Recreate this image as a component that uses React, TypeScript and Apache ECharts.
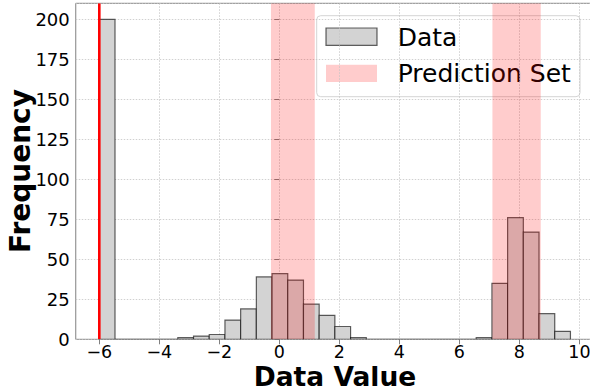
import React, { useEffect, useRef } from "react";
import * as echarts from "echarts";

// Histogram range and per-bin counts (30 equal-width bins)
const BIN_LOW = -6;
const BIN_HIGH = 9.7;
const COUNTS = [
  200, 0, 0, 0, 0, 1, 2, 3, 12, 19, 39, 41, 37, 22, 15, 8, 1, 0, 0, 0, 0, 0, 0,
  0, 1, 35, 76, 67, 16, 5,
];

// Prediction-set intervals on the x axis
const PREDICTION_SETS: [number, number][] = [
  [-0.28, 1.18],
  [7.1, 8.71],
];

// Vertical reference line
const THRESHOLD = -6;

const X_TICKS = [-6, -4, -2, 0, 2, 4, 6, 8, 10];
const X_MIN = -6.785;
const X_MAX = 10.485;
const Y_MIN = 0;
const Y_MAX = 210;
const Y_STEP = 25;

const FONT = "DejaVu Sans";

const fmt = (v: number) => String(v).replace("-", "\u2212");

export default function App() {
  const ref = useRef<HTMLDivElement>(null);

  useEffect(() => {
    if (!ref.current) return;
    const chart = echarts.init(ref.current, undefined, { renderer: "svg" });

    const binWidth = (BIN_HIGH - BIN_LOW) / COUNTS.length;
    const bins = COUNTS.map((c, i) => [
      BIN_LOW + i * binWidth,
      BIN_LOW + (i + 1) * binWidth,
      c,
    ]);

    const gridStyle = { color: "#c4c4c4", type: [1.5, 1.5], width: 0.8 };

    chart.setOption({
      animation: false,
      grid: {
        left: 75.75,
        right: 0,
        top: 3.3,
        bottom: 52.7,
        show: true,
        borderColor: "#808080",
        borderWidth: 1,
        backgroundColor: "transparent",
      },
      xAxis: {
        type: "value",
        min: X_MIN,
        max: X_MAX,
        axisLine: { show: false },
        axisTick: {
          show: true,
          customValues: X_TICKS,
          length: 5,
          lineStyle: { color: "#808080" },
        },
        axisLabel: {
          customValues: X_TICKS,
          formatter: (v: number) => fmt(v),
          fontSize: 17.5,
          lineHeight: 16,
          color: "#000",
          fontFamily: FONT,
          margin: 4.5,
        },
        splitLine: { show: true, lineStyle: gridStyle },
      },
      yAxis: {
        type: "value",
        min: Y_MIN,
        max: Y_MAX,
        interval: Y_STEP,
        axisLine: { show: false },
        axisTick: { show: true, length: 5, lineStyle: { color: "#808080" } },
        axisLabel: {
          fontSize: 18,
          color: "#000",
          fontFamily: FONT,
          margin: 6,
          showMaxLabel: false,
          formatter: (v: number) => (v > 200 ? "" : fmt(v)),
        },
        splitLine: { show: true, lineStyle: gridStyle },
      },
      series: [
        {
          name: "Data",
          type: "custom",
          z: 2,
          clip: true,
          data: bins,
          encode: { x: [0, 1], y: 2 },
          renderItem: (params: any, api: any) => {
            const c = api.value(2);
            const p0 = api.coord([api.value(0), c]);
            const p1 = api.coord([api.value(1), 0]);
            return {
              type: "rect",
              shape: { x: p0[0], y: p0[1], width: p1[0] - p0[0], height: p1[1] - p0[1] },
              style: { fill: "#d3d3d3", stroke: "rgba(0,0,0,0.62)", lineWidth: 1.2 },
            };
          },
        },
        {
          name: "Prediction Set",
          type: "custom",
          z: 3,
          clip: true,
          data: PREDICTION_SETS,
          encode: { x: [0, 1] },
          renderItem: (params: any, api: any) => {
            const cs = params.coordSys;
            const a = api.coord([api.value(0), Y_MIN]);
            const b = api.coord([api.value(1), Y_MIN]);
            return {
              type: "rect",
              shape: { x: a[0], y: cs.y, width: b[0] - a[0], height: cs.height },
              style: { fill: "rgba(255,0,0,0.2)" },
            };
          },
        },
        {
          name: "Threshold",
          type: "custom",
          z: 4,
          clip: true,
          data: [[THRESHOLD]],
          encode: { x: 0 },
          renderItem: (params: any, api: any) => {
            const cs = params.coordSys;
            const a = api.coord([api.value(0), Y_MIN]);
            return {
              type: "line",
              shape: { x1: a[0], y1: cs.y, x2: a[0], y2: cs.y + cs.height },
              style: { stroke: "#ff0000", lineWidth: 2.6 },
            };
          },
        },
      ],
      graphic: [
        {
          type: "text",
          x: 20,
          y: 171,
          rotation: Math.PI / 2,
          style: {
            text: "Frequency",
            font: `bold 28px "${FONT}"`,
            fill: "#000",
            align: "center",
            verticalAlign: "middle",
            lineHeight: 22,
          },
        },
        {
          type: "text",
          x: 335,
          y: 376.6,
          style: {
            text: "Data Value",
            font: `bold 26.5px "${FONT}"`,
            fill: "#000",
            align: "center",
            verticalAlign: "middle",
            lineHeight: 22,
          },
        },
        {
          type: "group",
          z: 100,
          children: [
            {
              type: "rect",
              shape: { x: 316.7, y: 15.7, width: 263.3, height: 81, r: 4 },
              style: { fill: "rgba(255,255,255,0.8)", stroke: "#d4d4d4", lineWidth: 1 },
            },
            {
              type: "rect",
              shape: { x: 326, y: 28, width: 51, height: 17.3 },
              style: { fill: "#d3d3d3", stroke: "rgba(0,0,0,0.62)", lineWidth: 1.2 },
            },
            {
              type: "text",
              x: 397.7,
              y: 37.2,
              style: {
                text: "Data",
                font: `25px "${FONT}"`,
                fill: "#000",
                verticalAlign: "middle",
              },
            },
            {
              type: "rect",
              shape: { x: 326, y: 64.7, width: 51, height: 17.3 },
              style: { fill: "rgba(255,0,0,0.2)" },
            },
            {
              type: "text",
              x: 397.7,
              y: 73.3,
              style: {
                text: "Prediction Set",
                font: `25px "${FONT}"`,
                fill: "#000",
                verticalAlign: "middle",
              },
            },
          ],
        },
      ],
    });

    return () => chart.dispose();
  }, []);

  return (
    <div style={{ position: "absolute", left: 0, top: 0, width: 590, height: 392, overflow: "hidden" }}>
      <div ref={ref} style={{ width: 594, height: 392 }} />
    </div>
  );
}
